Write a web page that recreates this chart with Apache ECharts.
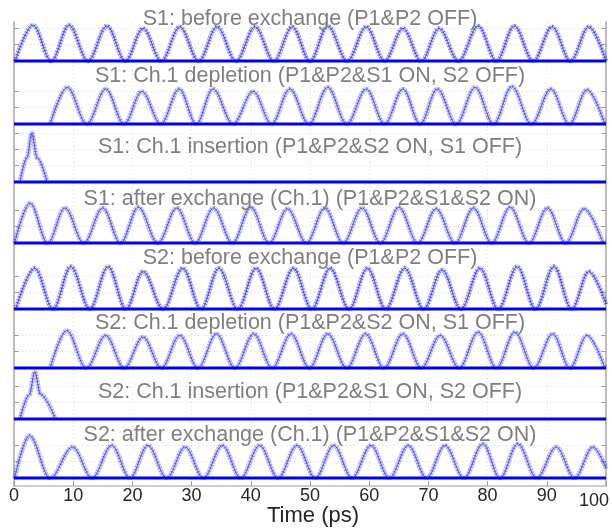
<!DOCTYPE html>
<html>
<head>
<meta charset="utf-8">
<script src="https://cdn.jsdelivr.net/npm/echarts@6/dist/echarts.min.js"></script>
<style>
  html, body { margin: 0; padding: 0; background: #fff; }
  #container { width: 612px; height: 531px; }
</style>
</head>
<body>
<div id="container"></div>
<script>
// panel captions, top to bottom
var panelTitles = [
    'S1: before exchange (P1&P2 OFF)',
    'S1: Ch.1 depletion (P1&P2&S1 ON, S2 OFF)',
    'S1: Ch.1 insertion (P1&P2&S2 ON, S1 OFF)',
    'S1: after exchange (Ch.1) (P1&P2&S1&S2 ON)',
    'S2: before exchange (P1&P2 OFF)',
    'S2: Ch.1 depletion (P1&P2&S2 ON, S1 OFF)',
    'S2: Ch.1 insertion (P1&P2&S1 ON, S2 OFF)',
    'S2: after exchange (Ch.1) (P1&P2&S1&S2 ON)'
];

// pulse traces: [time (ps), amplitude (a.u.)], trough / peak vertices
var s1Before = [[0.2, 0], [3.2, 2.2], [6.3, 0], [9.3, 2.2], [12.5, 0], [15.7, 2.15], [18.8, 0], [21.8, 2.0],
    [24.9, 0], [28.0, 2.1], [31.2, 0], [34.3, 2.1], [37.5, 0], [40.7, 2.1], [43.9, 0], [47.0, 2.1],
    [50.0, 0], [53.0, 2.15], [56.3, 0], [59.5, 2.1], [62.6, 0], [65.7, 2.0], [68.8, 0], [71.8, 2.0],
    [75.1, 0], [78.4, 2.15], [81.5, 0], [84.5, 2.15], [87.7, 0], [90.9, 2.1], [94.0, 0], [97.1, 2.1], [100, 0]];
var s1Depletion = [[6.1, 0], [9.0, 2.25], [12.3, 0], [15.5, 2.15], [18.6, 0], [21.6, 2.0], [24.8, 0], [27.9, 2.15],
    [30.8, 0], [33.6, 2.15], [37.0, 0], [40.4, 2.0], [43.5, 0], [46.6, 2.15], [49.8, 0], [53.0, 2.25],
    [56.2, 0], [59.5, 2.15], [62.6, 0], [65.7, 2.15], [68.6, 0], [71.5, 2.15], [74.7, 0], [77.9, 2.25],
    [81.0, 0], [84.1, 2.3], [87.4, 0], [90.7, 2.15], [93.8, 0], [96.8, 2.1], [99.8, 0]];
var s1Insertion = [[1.0, 0], [2.2, 1.5], [3.0, 3.0], [3.9, 1.5], [5.6, 0]];
var s1After = [[0.1, 0], [2.7, 2.45], [5.7, 0], [8.6, 2.15], [11.8, 0], [15.0, 2.15], [18.0, 0], [21.0, 2.2],
    [24.3, 0], [27.5, 2.15], [30.6, 0], [33.7, 2.15], [36.9, 0], [40.0, 2.2], [43.1, 0], [46.2, 2.1],
    [49.4, 0], [52.5, 2.15], [55.6, 0], [58.8, 2.15], [61.9, 0], [65.0, 2.2], [68.2, 0], [71.3, 2.1],
    [74.5, 0], [77.6, 2.15], [80.7, 0], [83.8, 2.2], [87.0, 0], [90.1, 2.15], [93.2, 0], [96.3, 2.1], [99.5, 0]];
var s2Before = [[0.3, 0], [3.5, 2.5], [6.6, 0], [9.6, 2.6], [12.8, 0], [15.9, 2.6], [18.9, 0], [21.8, 2.3],
    [25.2, 0], [28.5, 2.5], [31.6, 0], [34.6, 2.5], [37.8, 0], [40.9, 2.5], [44.0, 0], [47.2, 2.5],
    [50.3, 0], [53.4, 2.5], [56.6, 0], [59.7, 2.5], [62.8, 0], [66.0, 2.5], [69.2, 0], [72.3, 2.4],
    [75.5, 0], [78.7, 2.5], [81.8, 0], [85.0, 2.6], [88.1, 0], [91.2, 2.6], [94.2, 0], [97.1, 2.3], [100, 0.3]];
var s2Depletion = [[6.1, 0], [8.9, 2.3], [12.2, 0], [15.5, 2.0], [18.6, 0], [21.8, 1.9], [24.9, 0], [28.0, 2.0],
    [31.1, 0], [34.2, 2.1], [37.3, 0], [40.5, 2.1], [43.6, 0], [46.8, 2.1], [49.9, 0], [53.0, 2.1],
    [56.2, 0], [59.4, 2.1], [62.5, 0], [65.7, 2.1], [68.8, 0], [72.0, 2.0], [75.2, 0], [78.4, 2.2],
    [81.5, 0], [84.6, 2.2], [87.8, 0], [91.0, 2.1], [93.9, 0], [96.8, 2.0], [99.8, 0]];
var s2Insertion = [[1.0, 0], [2.6, 1.5], [3.5, 2.9], [4.5, 1.5], [7.0, 0]];
var s2After = [[0.1, 0], [2.6, 2.6], [6.1, 0], [9.9, 1.9], [13.2, 0], [16.5, 2.0], [19.6, 0], [22.6, 2.0],
    [25.8, 0], [28.9, 1.9], [32.0, 0], [35.2, 2.0], [38.3, 0], [41.5, 2.0], [44.6, 0], [47.8, 2.0],
    [50.9, 0], [54.0, 2.0], [57.1, 0], [60.3, 2.0], [63.4, 0], [66.6, 2.0], [69.7, 0], [72.8, 2.0],
    [76.0, 0], [79.2, 2.1], [82.1, 0], [85.1, 2.1], [88.3, 0], [91.6, 1.9], [94.7, 0], [97.8, 1.9], [100, 0.6]];
// zero-level trace present in every panel
var zeroLevel = [[0, 0], [100, 0]];

var traces = [s1Before, s1Depletion, s1Insertion, s1After, s2Before, s2Depletion, s2Insertion, s2After];

// ---- layout ----
var plotLeft = 14, plotWidth = 592;
var panelBottom = [61, 124, 182, 243, 309, 368, 419, 478];
var panelMax = [2.4, 2.6, 3.3, 2.6, 2.8, 2.5, 2.95, 2.7];
var unitPx = 16.3;
var titleY = [19, 76, 147, 199, 258, 323, 392, 435];
var bandAlpha = [0.5, 0.35, 0.35, 0.35, 0.5, 0.35, 0.35, 0.35];

var myChart = echarts.init(document.getElementById('container'));

var grids = [], xAxes = [], yAxes = [], series = [], texts = [];
var gray = '#bdbdbd';

traces.forEach(function (trace, i) {
    var h = panelMax[i] * unitPx;
    grids.push({ left: plotLeft, width: plotWidth, top: panelBottom[i] - h, height: h, outerBoundsMode: 'none' });
    xAxes.push({ gridIndex: i, type: 'value', min: 0, max: 100, show: false });
    var yCommon = {
        gridIndex: i, type: 'value', min: 0, max: panelMax[i],
        axisLine: { show: false },
        axisLabel: { show: false },
        axisTick: { show: true, inside: true, length: 5, customValues: panelMax[i] > 3 ? [1, 2, 3] : [1, 2],
            lineStyle: { color: '#a0a0a0', width: 1 } }
    };
    yAxes.push(Object.assign({}, yCommon, {
        position: 'left',
        splitLine: { show: true, lineStyle: { color: '#dadada', type: [1, 3], width: 1 } }
    }));
    yAxes.push(Object.assign({}, yCommon, { position: 'right', splitLine: { show: false } }));

    var common = { type: 'line', xAxisIndex: i, yAxisIndex: 2 * i, data: trace,
        smooth: 0.35, smoothMonotone: 'x', symbol: 'none', clip: false, silent: true };
    // soft halo, grainy band and thin core give the sampled-scope look
    series.push(Object.assign({}, common, {
        lineStyle: { color: 'rgba(0,0,255,0.15)', width: 5 }
    }));
    series.push(Object.assign({}, common, {
        lineStyle: { color: 'rgba(0,0,255,' + bandAlpha[i] + ')', width: 4, type: [1, 2] }
    }));
    series.push(Object.assign({}, common, {
        lineStyle: { color: 'rgba(0,0,255,0.6)', width: 1 }
    }));
    series.push({
        type: 'line', xAxisIndex: i, yAxisIndex: 2 * i, data: zeroLevel,
        symbol: 'none', clip: false, silent: true, z: 3,
        lineStyle: { color: '#0000ee', width: 3 }
    });

    texts.push({
        type: 'text', x: plotLeft + plotWidth / 2, y: titleY[i], z: 100,
        style: {
            text: panelTitles[i], fill: '#7f7f7f', textAlign: 'center', textVerticalAlign: 'middle',
            font: '21.5px "Liberation Sans", Arial, sans-serif'
        }
    });
});

// frame axes spanning all panels
grids.push({ left: plotLeft, width: plotWidth, top: 22, bottom: 45, outerBoundsMode: 'none' });
xAxes.push({
    gridIndex: 8, type: 'value', min: 0, max: 100, interval: 10,
    name: 'Time (ps)', nameLocation: 'middle', nameGap: 19, nameMoveOverlap: false,
    nameTextStyle: { fontSize: 22, color: '#262626', fontFamily: 'Liberation Sans, Arial', padding: [0, 0, 0, 6] },
    axisLine: { show: true, lineStyle: { color: gray, width: 1.5 } },
    axisTick: { show: true, inside: true, length: 5, lineStyle: { color: '#a0a0a0' } },
    axisLabel: {
        fontSize: 18, color: '#262626', margin: 1, fontFamily: 'Liberation Sans, Arial',
        formatter: function (v) { return v === 100 ? '{low|100}' : String(v); },
        rich: { low: { fontSize: 18, color: '#262626', fontFamily: 'Liberation Sans, Arial', padding: [5, 24, 0, 0] } }
    },
    splitLine: { show: true, lineStyle: { color: '#dadada', type: [1, 3], width: 1 } }
});
yAxes.push({ gridIndex: 8, type: 'value', min: 0, max: 1, position: 'left',
    axisLine: { show: true, lineStyle: { color: gray, width: 2 } },
    axisTick: { show: false }, axisLabel: { show: false }, splitLine: { show: false } });
yAxes.push({ gridIndex: 8, type: 'value', min: 0, max: 1, position: 'right',
    axisLine: { show: true, lineStyle: { color: gray, width: 2 } },
    axisTick: { show: false }, axisLabel: { show: false }, splitLine: { show: false } });

var option = {
    backgroundColor: '#fff',
    animation: false,
    grid: grids,
    xAxis: xAxes,
    yAxis: yAxes,
    series: series,
    graphic: texts
};

myChart.setOption(option);
window.onresize = function () {
    myChart.resize();
};
</script>
</body>
</html>
